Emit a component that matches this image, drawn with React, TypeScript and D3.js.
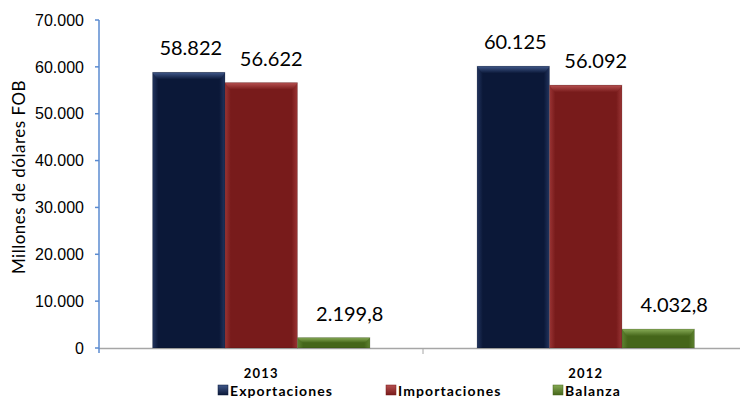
import React from "react";
import * as d3 from "d3";

const categories = ["2013", "2012"];
const seriesNames = ["Exportaciones", "Importaciones", "Balanza"];
const exportaciones = [58822, 60125];
const importaciones = [56622, 56092];
const balanza = [2199.8, 4032.8];
const valueLabels = [
  ["58.822", "60.125"],
  ["56.622", "56.092"],
  ["2.199,8", "4.032,8"],
];
const yTicks = [0, 10000, 20000, 30000, 40000, 50000, 60000, 70000];
const yTickLabels = ["0", "10.000", "20.000", "30.000", "40.000", "50.000", "60.000", "70.000"];

const seriesValues = [exportaciones, importaciones, balanza];
const colors = [
  { body: "#0b1838", top: "#40588a", edge: "#22345e" },
  { body: "#781b1b", top: "#b65050", edge: "#9a3434" },
  { body: "#45661a", top: "#86aa55", edge: "#5e8230" },
];
// label horizontal nudge per series (as in the reference)
const labelDx = [2, 10, 16];

export default function App() {
  const W = 740, H = 401;
  const x0 = d3.scaleBand().domain(categories).range([99, 748]).paddingInner(0.33).paddingOuter(0.165);
  const x1 = d3.scaleBand().domain(seriesNames).range([0, x0.bandwidth()]).padding(0);
  const y = d3.scaleLinear().domain([0, 70000]).range([348, 20]);
  const font = "Lato, 'Open Sans', sans-serif";

  return (
    <svg width={W} height={H} style={{ position: "absolute", left: 0, top: 0, background: "#fff" }}>
      <defs>
        {colors.map((c, i) => (
          <React.Fragment key={i}>
            <linearGradient id={`top${i}`} x1="0" y1="0" x2="0" y2="1">
              <stop offset="0" stopColor={c.top} />
              <stop offset="1" stopColor={c.body} />
            </linearGradient>
            <linearGradient id={`side${i}`} x1="0" y1="0" x2="1" y2="0">
              <stop offset="0" stopColor={c.edge} />
              <stop offset="0.08" stopColor={c.body} />
              <stop offset="0.92" stopColor={c.body} />
              <stop offset="1" stopColor={c.edge} />
            </linearGradient>
          </React.Fragment>
        ))}
      </defs>

      {/* x axis */}
      <line x1={99} x2={740} y1={348.5} y2={348.5} stroke="#a6a6a6" strokeWidth={1.5} />
      <line x1={423} x2={423} y1={348} y2={354} stroke="#a6a6a6" strokeWidth={1} />

      {/* bars */}
      {categories.map((cat, ci) => (
        <g key={cat} transform={`translate(${x0(cat)},0)`}>
          {seriesNames.map((s, si) => {
            const v = seriesValues[si][ci];
            const bx = x1(s)!;
            const bw = x1.bandwidth();
            const by = y(v);
            const bh = y(0) - by;
            const bev = Math.min(7, bh / 2);
            return (
              <g key={s}>
                <rect x={bx} y={by} width={bw} height={bh} fill={`url(#side${si})`} />
                <path
                  d={`M${bx},${by} L${bx + bw},${by} L${bx + bw - 5},${by + bev} L${bx + 5},${by + bev} Z`}
                  fill={`url(#top${si})`}
                />
                <rect x={bx} y={by} width={bw} height={bh} fill="none" stroke="#000" strokeOpacity={0.15} strokeWidth={1} />
                <text
                  x={bx + bw / 2 + labelDx[si]}
                  y={by - 17}
                  textAnchor="middle"
                  fontFamily={font}
                  fontSize={20}
                  fill="#000"
                >
                  {valueLabels[si][ci]}
                </text>
              </g>
            );
          })}
          <text
            x={x0.bandwidth() / 2}
            y={378}
            textAnchor="middle"
            fontFamily={font}
            fontWeight="bold"
            fontSize={13}
            letterSpacing={1.2}
            fill="#000"
          >
            {cat}
          </text>
        </g>
      ))}

      {/* y axis */}
      <line x1={99} x2={99} y1={20} y2={353} stroke="#5b8bd0" strokeWidth={1.5} />
      {yTicks.map((t, i) => (
        <g key={t}>
          <line x1={95} x2={99} y1={y(t)} y2={y(t)} stroke="#5b8bd0" strokeWidth={1.5} />
          <text
            x={84}
            y={y(t)}
            dy="0.36em"
            textAnchor="end"
            fontFamily="'Liberation Sans', Arial, sans-serif"
            fontSize={16}
            fill="#000"
          >
            {yTickLabels[i]}
          </text>
        </g>
      ))}
      <text
        transform={`translate(25,177) rotate(-90)`}
        textAnchor="middle"
        fontFamily={font}
        fontSize={17}
        letterSpacing={0.5}
        fill="#000"
      >
        Millones de dólares FOB
      </text>

      {/* legend */}
      {[
        { name: seriesNames[0], x: 218 },
        { name: seriesNames[1], x: 386 },
        { name: seriesNames[2], x: 553 },
      ].map((l, i) => (
        <g key={l.name}>
          <rect x={l.x} y={385} width={10} height={10} fill={`url(#top${i})`} stroke={colors[i].body} strokeWidth={0.5} />
          <text x={l.x + 12} y={396} fontFamily={font} fontWeight="bold" fontSize={14} letterSpacing={1.1} fill="#000">
            {l.name}
          </text>
        </g>
      ))}
    </svg>
  );
}
